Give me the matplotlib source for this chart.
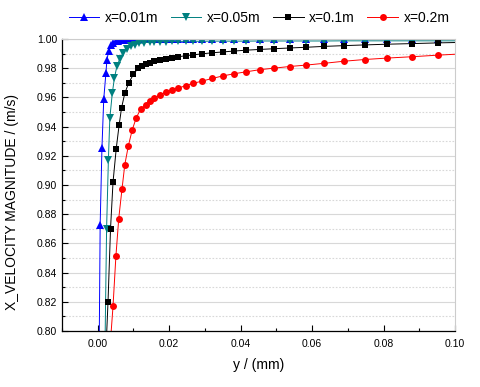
import matplotlib
matplotlib.use("Agg")
import matplotlib.pyplot as plt
from matplotlib.ticker import MultipleLocator, FormatStrFormatter

plt.rcParams['font.family'] = ['Liberation Sans', 'DejaVu Sans']

# x = 0.01 m
y_001 = [0.0004, 0.0007, 0.0012, 0.0017, 0.0023, 0.0026, 0.0031, 0.0037, 0.0043, 0.0050,
         0.0058, 0.0066, 0.0075, 0.0085, 0.0096, 0.0108, 0.0121, 0.0134, 0.0146, 0.0159,
         0.0174, 0.0190, 0.0207, 0.0226, 0.0246, 0.0268, 0.0292, 0.0320, 0.0351, 0.0381,
         0.0416, 0.0453, 0.0494, 0.0537, 0.0584, 0.0634, 0.0688, 0.0747, 0.0811, 0.0879,
         0.0953, 0.1030]
v_001 = [0.780, 0.8726, 0.9255, 0.9587, 0.9765, 0.9860, 0.9918, 0.9957, 0.9975, 0.9985,
         0.9990, 0.9993, 0.9995, 0.9996, 0.9997, 0.9997, 0.9998, 0.9998, 0.9998, 0.9998,
         0.9998, 0.9998, 0.9998, 0.9998, 0.9998, 0.9998, 0.9998, 0.9998, 0.9998, 0.9998,
         0.9998, 0.9998, 0.9998, 0.9998, 0.9998, 0.9998, 0.9998, 0.9998, 0.9998, 0.9998,
         0.9998, 0.9998]

# x = 0.05 m
y_005 = [0.0020, 0.0025, 0.0030, 0.0034, 0.0041, 0.0047, 0.0054, 0.0062, 0.0071, 0.0081,
         0.0092, 0.0104, 0.0117, 0.0131, 0.0146, 0.0159, 0.0174, 0.0190, 0.0207, 0.0226,
         0.0246, 0.0268, 0.0292, 0.0320, 0.0351, 0.0381, 0.0416, 0.0453, 0.0494, 0.0537,
         0.0584, 0.0634, 0.0688, 0.0747, 0.0811, 0.0879, 0.0953, 0.1030]
v_005 = [0.780, 0.870, 0.917, 0.9457, 0.963, 0.9735, 0.9815, 0.9865, 0.9905, 0.9930,
         0.9950, 0.9962, 0.9970, 0.9975, 0.9979, 0.9981, 0.9982, 0.9983, 0.9984, 0.9984,
         0.9985, 0.9985, 0.9985, 0.9986, 0.9986, 0.9986, 0.9986, 0.9987, 0.9987, 0.9987,
         0.9987, 0.9987, 0.9988, 0.9988, 0.9988, 0.9988, 0.9988, 0.9988]

# x = 0.1 m
y_01 = [0.0022, 0.0029, 0.0036, 0.0043, 0.0052, 0.0060, 0.0067, 0.0076, 0.0087, 0.0100,
        0.0113, 0.0123, 0.0134, 0.0146, 0.0159, 0.0174, 0.0190, 0.0207, 0.0226, 0.0246,
        0.0268, 0.0292, 0.0320, 0.0351, 0.0381, 0.0416, 0.0453, 0.0494, 0.0537, 0.0584,
        0.0634, 0.0688, 0.0747, 0.0811, 0.0879, 0.0953, 0.1030]
v_01 = [0.780, 0.820, 0.870, 0.902, 0.925, 0.941, 0.953, 0.963, 0.970, 0.9758,
        0.9800, 0.9815, 0.9828, 0.9838, 0.9848, 0.9857, 0.9865, 0.9872, 0.9879, 0.9886,
        0.9892, 0.9899, 0.9906, 0.9912, 0.9918, 0.9924, 0.9929, 0.9934, 0.9939, 0.9944,
        0.9950, 0.9955, 0.9960, 0.9965, 0.9969, 0.9974, 0.9978]

# x = 0.2 m
y_02 = [0.0035, 0.0043, 0.0051, 0.0059, 0.0068, 0.0076, 0.0086, 0.0097, 0.0108, 0.0120,
        0.0134, 0.0146, 0.0159, 0.0174, 0.0190, 0.0207, 0.0226, 0.0246, 0.0268, 0.0292,
        0.0320, 0.0351, 0.0381, 0.0416, 0.0453, 0.0494, 0.0537, 0.0584, 0.0634, 0.0688,
        0.0747, 0.0811, 0.0879, 0.0953, 0.1030]
v_02 = [0.790, 0.817, 0.851, 0.877, 0.897, 0.914, 0.927, 0.938, 0.946, 0.952,
        0.955, 0.9575, 0.9595, 0.9615, 0.9635, 0.9650, 0.9665, 0.9680, 0.9697, 0.9712,
        0.9730, 0.9748, 0.9762, 0.9776, 0.9790, 0.9801, 0.9812, 0.9822, 0.9834, 0.9848,
        0.9860, 0.9870, 0.9879, 0.9890, 0.9900]

series = [
    (y_001, v_001, 'x=0.01m', '#0000ff', '^', 5.2),
    (y_005, v_005, 'x=0.05m', '#008080', 'v', 5.2),
    (y_01, v_01, 'x=0.1m', '#000000', 's', 4.3),
    (y_02, v_02, 'x=0.2m', '#ff0000', 'o', 5.0),
]

fig = plt.figure(figsize=(4.8, 3.87), dpi=100)
ax = fig.add_axes([0.129, 0.145, 0.819, 0.754])

for ys, vs, lab, col, mk, ms in series:
    ax.plot(ys, vs, color=col, lw=0.7, marker=mk, markersize=ms,
            markeredgewidth=0, label=lab)

ax.set_xlim(-0.01, 0.10)
ax.set_ylim(0.80, 1.00)
ax.xaxis.set_major_locator(MultipleLocator(0.02))
ax.xaxis.set_minor_locator(MultipleLocator(0.01))
ax.yaxis.set_major_locator(MultipleLocator(0.02))
ax.yaxis.set_minor_locator(MultipleLocator(0.01))
ax.xaxis.set_major_formatter(FormatStrFormatter('%.2f'))
ax.yaxis.set_major_formatter(FormatStrFormatter('%.2f'))

ax.grid(True, axis='y', which='major', color='#d8d8d8', lw=0.8)
ax.grid(True, axis='y', which='minor', color='#d8d8d8', lw=0.8, ls=(0, (1.5, 1.5)))
ax.set_axisbelow(True)

ax.tick_params(which='both', direction='in', labelsize=7.5, top=False, right=False)
ax.tick_params(which='major', length=4, width=0.8)
ax.tick_params(which='minor', length=2, width=0.8)
ax.tick_params(axis='x', pad=6)

for s in ['top', 'right']:
    ax.spines[s].set_color('#cccccc')
for s in ['left', 'bottom']:
    ax.spines[s].set_color('black')
    ax.spines[s].set_linewidth(0.9)

ax.set_xlabel('y / (mm)', fontsize=10, labelpad=6)
ax.set_ylabel('X_VELOCITY MAGNITUDE / (m/s)', fontsize=10, va='center')
ax.yaxis.set_label_coords(-0.128, 0.44)

fig.legend(loc='center', bbox_to_anchor=(0.54, 0.953), ncol=4, frameon=False,
           fontsize=10, numpoints=1, handlelength=2.2, handletextpad=0.4,
           columnspacing=0.9)

fig.savefig('out.png', dpi=100)
